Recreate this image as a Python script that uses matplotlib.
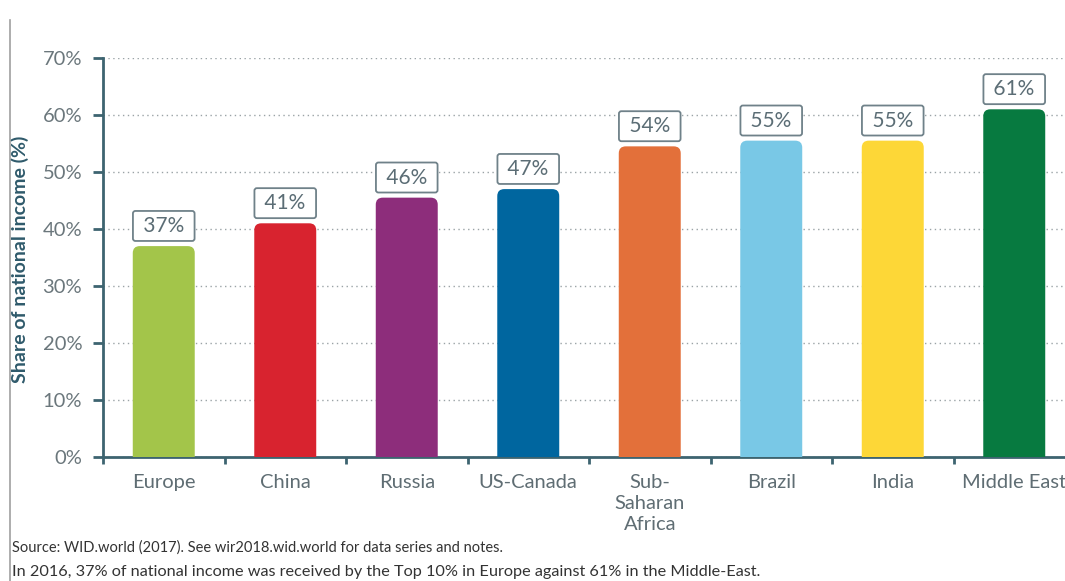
import matplotlib
matplotlib.use("Agg")
import matplotlib.pyplot as plt
from matplotlib.lines import Line2D
from matplotlib.patches import FancyBboxPatch
import numpy as np

categories = ["Europe", "China", "Russia", "US-Canada", "Sub-\nSaharan\nAfrica", "Brazil", "India", "Middle East"]
values = [37, 41, 45.5, 47, 54.5, 55.5, 55.5, 61]
value_labels = ["37%", "41%", "46%", "47%", "54%", "55%", "55%", "61%"]
colors = ["#a3c54a", "#d8232f", "#8d2d7b", "#00669f", "#e3703a", "#79c8e6", "#fdd737", "#077a40"]
yticks = [0, 10, 20, 30, 40, 50, 60, 70]
ytick_labels = ["0%", "10%", "20%", "30%", "40%", "50%", "60%", "70%"]

plt.rcParams['font.family'] = ['Lato', 'DejaVu Sans']

W, H = 1065, 581
fig = plt.figure(figsize=(W / 100, H / 100), dpi=100)
ax = fig.add_axes([103 / W, (H - 457) / H, (1075 - 103) / W, (457 - 58) / H])

axis_col = "#3d6470"
tick_col = "#6b777c"

ax.set_xlim(-0.5, len(categories) - 0.5)
ax.set_ylim(0, 70)

x = np.arange(len(categories))
bars = ax.bar(x, values, width=0.51, color=colors, zorder=3)

# replace rectangles with rounded-top versions of the same geometry
px_x = (1075 - 103) / len(categories)   # pixels per x unit
px_y = (457 - 58) / 70.0                 # pixels per y unit
r_px = 7
for b in bars:
    bx, by, bw, bh = b.get_x(), b.get_y(), b.get_width(), b.get_height()
    r = r_px / px_x
    ext = 3.0
    p = FancyBboxPatch((bx + r, by - ext + r * px_x / px_y), bw - 2 * r, bh + ext - 2 * r * px_x / px_y,
                       boxstyle=f"round,pad={r},rounding_size={r}",
                       mutation_aspect=px_x / px_y,
                       fc=b.get_facecolor(), ec="none", zorder=3)
    b.set_visible(False)
    ax.add_patch(p)

for xi, v, lab in zip(x, values, value_labels):
    ax.annotate(" " + lab + " ", xy=(xi, v), xytext=(0, 14.5), textcoords="offset points",
                ha="center", va="center", fontsize=15, color="#5b6d75",
                bbox=dict(boxstyle="round,pad=0.24,rounding_size=0.12", fc="white", ec="#6f8189", lw=1.3),
                zorder=4)

ax.set_yticks(yticks)
ax.set_yticklabels(ytick_labels, fontsize=14.5, color=tick_col)
ax.set_xticks(x)
ax.set_xticklabels(categories, fontsize=14.5, color="#5f6d73", linespacing=1.3, va="top")
ax.set_xticks(np.arange(-0.5, len(categories) - 0.4, 1.0), minor=True)
ax.tick_params(axis="x", which="major", length=0, pad=12)
ax.tick_params(axis="x", which="minor", length=5, width=2, color=axis_col, direction="out")
ax.tick_params(axis="y", length=7, width=2, color=axis_col, pad=8)

for s in ["top", "right"]:
    ax.spines[s].set_visible(False)
for s in ["left", "bottom"]:
    ax.spines[s].set_color(axis_col)
    ax.spines[s].set_linewidth(2)

ax.yaxis.grid(True, linestyle=(0, (1, 2.5)), color="#9aa3a6", linewidth=1, zorder=0)
ax.set_axisbelow(True)

ax.set_ylabel("Share of national income (%)", fontsize=14, fontweight="bold",
              color="#2f5a6b")
ax.yaxis.set_label_coords((29 - 103) / ((1075 - 103)), (457 - 259) / (457 - 58))

fig.text(12 / W, 1 - 548 / H, "Source: WID.world (2017). See wir2018.wid.world for data series and notes.",
         fontsize=10.5, color="#333333", va="center", ha="left")
fig.text(12 / W, 1 - 572 / H, "In 2016, 37% of national income was received by the Top 10% in Europe against 61% in the Middle-East.",
         fontsize=11.7, color="#333333", va="center", ha="left")

fig.add_artist(Line2D([10 / W, 10 / W], [0, 1 - 20 / H], color="#a0a0a0", lw=1.2))

fig.savefig("out.png", dpi=100)
